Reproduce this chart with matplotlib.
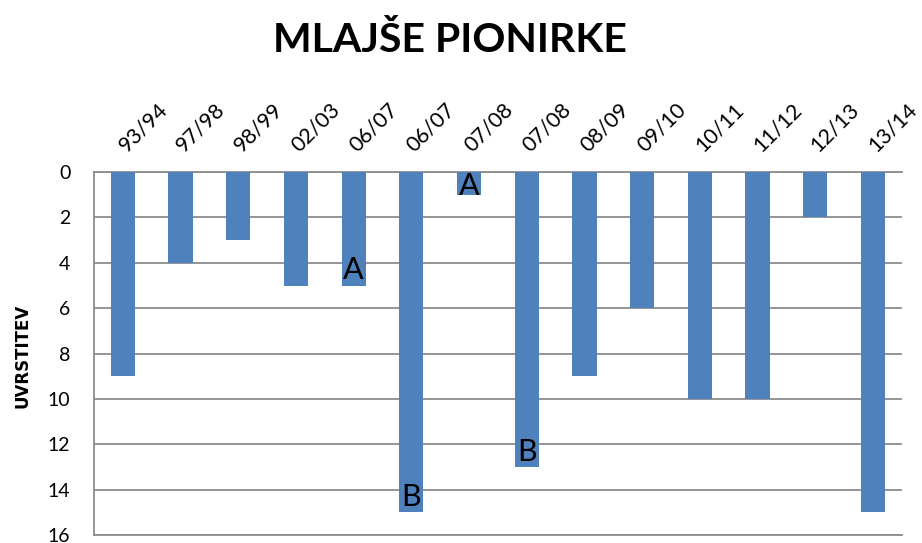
"""Mlajše pionirke - uvrstitve po sezonah."""

import matplotlib
matplotlib.use("Agg")
import matplotlib.pyplot as plt
import matplotlib.transforms as mtransforms
import numpy as np

seasons = ["93/94", "97/98", "98/99", "02/03", "06/07", "06/07", "07/08",
           "07/08", "08/09", "09/10", "10/11", "11/12", "12/13", "13/14"]
places = [9, 4, 3, 5, 5, 15, 1, 13, 9, 6, 10, 10, 2, 15]
groups = ["", "", "", "", "A", "B", "A", "B", "", "", "", "", "", ""]
y_ticks = [0, 2, 4, 6, 8, 10, 12, 14, 16]

BAR_COLOR = "#4F81BD"
GRID_COLOR = "#8C8C8C"
FONT = ["Lato", "DejaVu Sans"]

fig = plt.figure(figsize=(9.22, 5.43), dpi=100)
ax = fig.add_axes([0.102, 0.0147, 0.876, 0.6683])

x = np.arange(len(seasons))
ax.bar(x, places, width=0.42, color=BAR_COLOR, zorder=3)

ax.set_ylim(16, 0)
ax.set_xlim(-0.5, len(seasons) - 0.5)
ax.set_yticks(y_ticks)
ax.yaxis.grid(True, color=GRID_COLOR, lw=1.3, zorder=0)
ax.set_axisbelow(True)

ax.spines["right"].set_visible(False)
for side in ["left", "top", "bottom"]:
    ax.spines[side].set_color(GRID_COLOR)
    ax.spines[side].set_linewidth(1.3)

ax.tick_params(axis="y", length=0, pad=17, labelsize=14)
for lbl in ax.get_yticklabels():
    lbl.set_family(FONT)

ax.xaxis.tick_top()
ax.set_xticks(x)
ax.set_xticklabels(seasons, rotation=45, ha="left", va="bottom",
                   rotation_mode="anchor", fontsize=15.5, family=FONT)
ax.tick_params(axis="x", length=0, pad=12)
shift = mtransforms.ScaledTranslation(6 / 100, 0, fig.dpi_scale_trans)
for lbl in ax.get_xticklabels():
    lbl.set_transform(lbl.get_transform() + shift)

# oznake skupin A / B
for i, (v, g) in enumerate(zip(places, groups)):
    if g:
        ax.annotate(g, xy=(i, max(v, 1.3)), xytext=(0, 1),
                    textcoords="offset points", ha="center", va="bottom",
                    fontsize=22, family=FONT, zorder=4)

fig.text(0.488, 0.925, "MLAJŠE PIONIRKE", ha="center", va="center",
         fontsize=29.5, fontweight="bold", family=FONT)
fig.text(0.024, 0.345, "UVRSTITEV", rotation=90, ha="center", va="center",
         fontsize=12, fontweight="bold",
         family=["Liberation Sans Narrow", "DejaVu Sans"])

plt.savefig("out.png", dpi=100)
